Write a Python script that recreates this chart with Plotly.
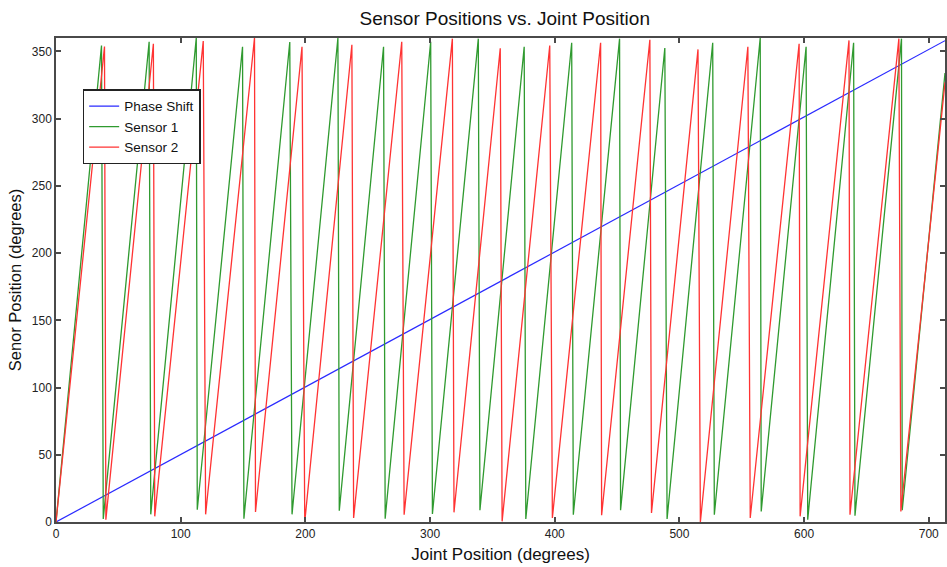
import plotly.graph_objects as go

# ---- data ----
# Phase shift (straight line)
phase_x = [0, 713]
phase_y = [0, 358]

# Sensor 1 (green) sawtooth: start, peaks, troughs, end
s1_start = (0, 0)
s1_peak_x = [36.5, 74.7, 112.5, 149.6, 187.5, 226.1, 262.7, 300.5, 338.7,
             375.5, 413.6, 452.0, 488.3, 526.7, 564.8, 601.6, 639.7, 678.1]
s1_peak_y = [354.4, 357.2, 360.0, 353.5, 357.0, 360.0, 353.5, 357.2, 359.5,
             353.5, 356.5, 359.5, 352.6, 356.5, 360.0, 353.5, 356.5, 359.5]
s1_trough_x = [37.9, 76.0, 113.3, 150.7, 189.3, 227.2, 264.0, 301.9, 340.0,
               376.8, 414.9, 452.8, 490.1, 528.0, 565.6, 602.9, 640.8, 678.7]
s1_trough_y = [2.2, 5.7, 9.1, 2.5, 5.7, 8.4, 2.5, 6.0, 8.7,
               2.2, 5.4, 8.7, 2.2, 5.4, 7.9, 1.7, 4.7, 8.7]
s1_end = (713, 334)

# Sensor 2 (red) sawtooth
s2_start = (0, 0)
s2_peak_x = [38.9, 78.1, 118.1, 159.2, 197.3, 237.3, 277.3, 317.9, 356.3,
             396.0, 436.8, 476.3, 514.9, 554.9, 596.0, 636.0, 676.0]
s2_peak_y = [353.7, 355.7, 357.7, 360.0, 353.5, 355.0, 357.2, 359.5, 352.4,
             354.4, 356.5, 358.7, 351.5, 353.5, 355.7, 358.2, 359.5]
s2_trough_x = [40.0, 79.2, 120.0, 160.0, 199.5, 238.7, 279.2, 319.2, 357.8,
               398.1, 437.6, 477.6, 516.8, 556.8, 596.8, 636.8, 677.6]
s2_trough_y = [1.7, 4.2, 5.7, 7.4, 0.0, 3.0, 5.4, 7.2, 0.5,
               3.0, 5.0, 6.7, 0.0, 3.0, 4.2, 5.4, 7.9]
s2_end = (713, 327)


def build(start, px, py, tx, ty, end):
    xs, ys = [start[0]], [start[1]]
    for a, b, c, d in zip(px, py, tx, ty):
        xs += [a, c]
        ys += [b, d]
    xs.append(end[0])
    ys.append(end[1])
    return xs, ys


s1x, s1y = build(s1_start, s1_peak_x, s1_peak_y, s1_trough_x, s1_trough_y, s1_end)
s2x, s2y = build(s2_start, s2_peak_x, s2_peak_y, s2_trough_x, s2_trough_y, s2_end)

FONT = "Liberation Sans, Arial"

fig = go.Figure()
fig.add_trace(go.Scatter(x=phase_x, y=phase_y, mode="lines", name="Phase Shift",
                         line=dict(color="#2a2aff", width=1.2)))
fig.add_trace(go.Scatter(x=s1x, y=s1y, mode="lines", name="Sensor 1",
                         line=dict(color="#2f9a2f", width=1.3)))
fig.add_trace(go.Scatter(x=s2x, y=s2y, mode="lines", name="Sensor 2",
                         line=dict(color="#ff3333", width=1.3)))

axis_common = dict(showgrid=False, zeroline=False, showline=True, mirror="ticks",
                   linecolor="#4a4a4a", linewidth=1.5, ticks="inside", ticklen=5,
                   tickcolor="#4a4a4a", tickwidth=1.5,
                   tickfont=dict(family=FONT, size=12, color="#222222"))

fig.update_layout(
    width=947, height=567,
    margin=dict(l=56, r=0, t=38, b=45),
    plot_bgcolor="white", paper_bgcolor="white",
    title=dict(text="Sensor Positions vs. Joint Position", x=0.533, xanchor="center",
               y=0.968, yanchor="middle",
               font=dict(family=FONT, size=19, color="#111111")),
    xaxis=dict(range=[0, 713], tickvals=[0, 100, 200, 300, 400, 500, 600, 700],
               title=dict(text="Joint Position (degrees)", standoff=8,
                          font=dict(family=FONT, size=17, color="#111111")),
               **axis_common),
    yaxis=dict(range=[0, 360], tickvals=[0, 50, 100, 150, 200, 250, 300, 350],
               title=dict(text="Senor Position (degrees)", standoff=6,
                          font=dict(family=FONT, size=16.5, color="#111111")),
               **axis_common),
    legend=dict(x=0.030, y=0.894, xanchor="left", yanchor="top",
                bgcolor="white", bordercolor="#222222", borderwidth=1.5,
                font=dict(family=FONT, size=13.5, color="#111111"),
                tracegroupgap=0, itemwidth=30),
    showlegend=True,
)

fig.write_html("out.html")
